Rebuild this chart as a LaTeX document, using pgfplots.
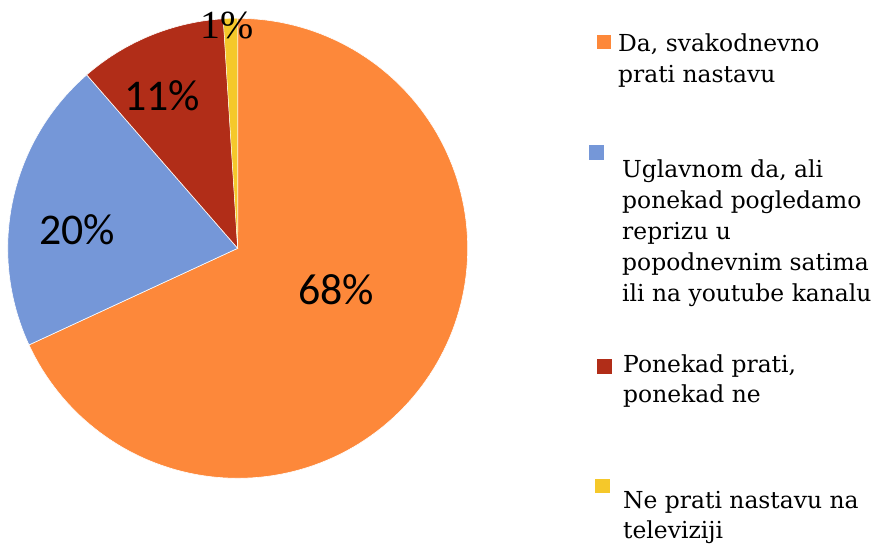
\documentclass[border=0pt]{standalone}
\usepackage{fontspec}
\setmainfont{DejaVu Serif}
\newfontfamily\pctfont{Carlito}
\newfontfamily\serifpct{Liberation Serif}
\usepackage{pgfplots}
\pgfplotsset{compat=1.18}

\definecolor{cOrange}{RGB}{253,136,58}
\definecolor{cBlue}{RGB}{117,151,216}
\definecolor{cRed}{RGB}{177,45,24}
\definecolor{cYellow}{RGB}{245,200,42}

% slice shares (percent), clockwise from 12 o'clock
\def\vA{68.1}
\def\vB{20.5}
\def\vC{10.4}
\def\vD{1.0}
\pgfmathsetmacro\aA{90}
\pgfmathsetmacro\aB{\aA-3.6*\vA}
\pgfmathsetmacro\aC{\aB-3.6*\vB}
\pgfmathsetmacro\aD{\aC-3.6*\vC}
\pgfmathsetmacro\aE{\aD-3.6*\vD}
\def\cx{237.7}
\def\cy{296.7}
\def\rr{230}

\newcommand\legline[3]{\node[anchor=base west, inner sep=0pt,
  font=\fontsize{23.5}{31}\selectfont] at (axis cs:#1,#2) {#3};}

\begin{document}
\begin{tikzpicture}
\useasboundingbox (0,0) rectangle (881bp,545bp);
\begin{axis}[
  x=1bp, y=1bp,
  xmin=0, xmax=881, ymin=0, ymax=545,
  hide axis, clip=false,
  every axis plot/.append style={draw=white, line width=0.6pt},
]
% pie slices
\addplot[fill=cOrange, domain=\aB:\aA, samples=140, variable=\t]
  ({\cx+\rr*cos(\t)}, {\cy+\rr*sin(\t)}) -- (axis cs:\cx,\cy) -- cycle;
\addplot[fill=cBlue, domain=\aC:\aB, samples=50, variable=\t]
  ({\cx+\rr*cos(\t)}, {\cy+\rr*sin(\t)}) -- (axis cs:\cx,\cy) -- cycle;
\addplot[fill=cRed, domain=\aD:\aC, samples=30, variable=\t]
  ({\cx+\rr*cos(\t)}, {\cy+\rr*sin(\t)}) -- (axis cs:\cx,\cy) -- cycle;
\addplot[fill=cYellow, domain=\aE:\aD, samples=5, variable=\t, line width=0.3pt]
  ({\cx+\rr*cos(\t)}, {\cy+\rr*sin(\t)}) -- (axis cs:\cx,\cy) -- cycle;

% data labels
\begin{scope}[every node/.style={font=\pctfont\fontsize{44}{50}\selectfont, inner sep=0pt}]
\node at (axis cs:336,255) {68\%};
\node at (axis cs:77,315) {20\%};
\node at (axis cs:162,449) {11\%};
\end{scope}
\node[inner sep=0pt, font=\serifpct\fontsize{40}{46}\selectfont]
  at (axis cs:227.5,519) {1\%};

% legend
\fill[cOrange] (axis cs:597,510) rectangle (axis cs:611,496);
\legline{618}{493}{Da, svakodnevno}
\legline{618}{462}{prati nastavu}

\fill[cBlue] (axis cs:589,400) rectangle (axis cs:604,385);
\legline{622}{368}{Uglavnom da, ali}
\legline{622}{337}{ponekad pogledamo}
\legline{622}{306}{reprizu u}
\legline{622}{275}{popodnevnim satima}
\legline{622}{244}{ili na youtube kanalu}

\fill[cRed] (axis cs:597,186) rectangle (axis cs:612,171);
\legline{623}{173}{Ponekad prati,}
\legline{623}{143}{ponekad ne}

\fill[cYellow] (axis cs:595,66) rectangle (axis cs:610,52);
\legline{623}{37}{Ne prati nastavu na}
\legline{623}{7}{televiziji}
\end{axis}
\end{tikzpicture}
\end{document}
